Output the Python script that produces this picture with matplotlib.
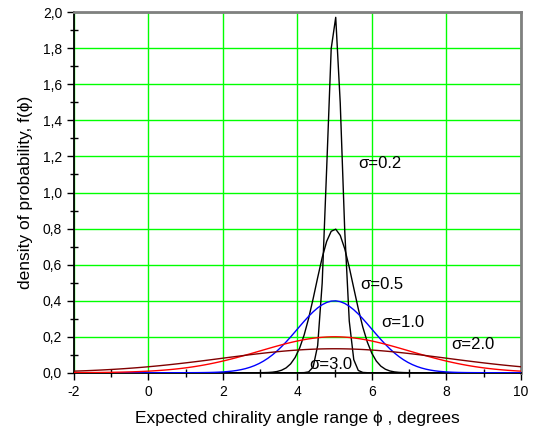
import numpy as np
import matplotlib.pyplot as plt
from matplotlib.ticker import MultipleLocator

plt.rcParams['font.family'] = ['Liberation Sans', 'DejaVu Sans']
plt.rcParams['axes.unicode_minus'] = False

# distributions of the chirality angle (normal, mean 5 degrees)
mean_angle = 5.0
sigmas = [0.2, 0.5, 1.0, 2.0, 3.0]
curve_colors = ['black', 'black', 'blue', 'red', '#800000']
sigma_labels = ['σ=0.2', 'σ=0.5', 'σ=1.0', 'σ=2.0', 'σ=3.0']
label_pos = [(5.63, 1.16), (5.70, 0.49), (6.25, 0.277), (8.14, 0.154), (4.32, 0.043)]
y_ticks = [0.0, 0.2, 0.4, 0.6, 0.8, 1.0, 1.2, 1.4, 1.6, 1.8, 2.0]

phi = np.linspace(-2, 10, 100)

fig = plt.figure(figsize=(5.33, 4.34), dpi=100)
ax = fig.add_axes([0.1388, 0.1412, 0.977 - 0.1388, 0.9717 - 0.1412])

for s, c in zip(sigmas, curve_colors):
    f = np.exp(-(phi - mean_angle) ** 2 / (2 * s ** 2)) / (s * np.sqrt(2 * np.pi))
    ax.plot(phi, f, color=c, lw=1.0, zorder=3)

for txt, (x, y) in zip(sigma_labels, label_pos):
    ax.text(x, y, txt, fontsize=12, va='center', ha='left', zorder=4)

ax.set_xlim(-2, 10)
ax.set_ylim(0, 2.0)
ax.xaxis.set_major_locator(MultipleLocator(2))
ax.xaxis.set_minor_locator(MultipleLocator(1))
ax.yaxis.set_minor_locator(MultipleLocator(0.1))
ax.set_yticks(y_ticks)
ax.set_yticklabels([('%.1f' % v).replace('.', ',') for v in y_ticks])

ax.grid(True, which='major', color='#00ff00', lw=1.0, zorder=0)
ax.tick_params(which='major', direction='out', length=5, width=1, labelsize=10)
ax.tick_params(which='minor', direction='inout', length=6, width=1)
ax.tick_params(top=False, right=False)

for side in ['top', 'right']:
    ax.spines[side].set_color('#808080')
    ax.spines[side].set_linewidth(2)
for side in ['left', 'bottom']:
    ax.spines[side].set_color('black')
    ax.spines[side].set_linewidth(1.3)

ax.set_xlabel('Expected chirality angle range ϕ , degrees', fontsize=12.5, labelpad=9)
ax.set_ylabel('density of probability, f(ϕ)', fontsize=12.5, labelpad=7)

fig.savefig('out.png', dpi=100)
